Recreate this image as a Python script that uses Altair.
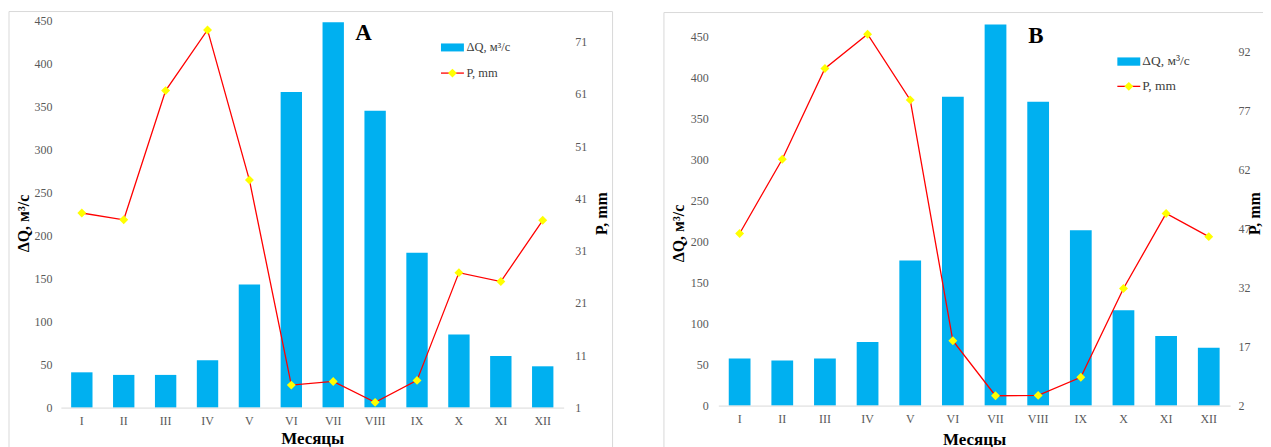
import altair as alt
import pandas as pd

months = ["I", "II", "III", "IV", "V", "VI", "VII", "VIII", "IX", "X", "XI", "XII"]
q_a = [41, 38, 38, 55, 143, 367, 448, 345, 180, 85, 60, 48]
p_a = [38.2, 36.9, 61.6, 73.2, 44.5, 5.3, 6.0, 2.0, 6.2, 26.8, 25.1, 36.8]
q_b = [57.5, 55, 57.5, 77.5, 177, 377, 465, 371, 214, 116.5, 85, 70.5]
p_b = [45.8, 64.7, 87.8, 96.5, 79.8, 18.5, 4.5, 4.6, 9.2, 31.8, 50.9, 45.0]
q_ticks = [0, 50, 100, 150, 200, 250, 300, 350, 400, 450]
p_ticks_a = [1, 11, 21, 31, 41, 51, 61, 71]
p_ticks_b = [2, 17, 32, 47, 62, 77, 92]
legend_labels = ["ΔQ, м³/с", "P, mm"]
q_title = "ΔQ, м³/с"
p_title = "P, mm"
x_title = "Месяцы"

FONT = "Liberation Serif"
BAR = "#00b0f0"
LINE = "#ff0000"
DIAM = "#ffff00"


def one():
    return pd.DataFrame({"k": [0]})


def panel(letter, q, p, q_domain, p_domain, p_ticks, w, h, g):
    df = pd.DataFrame({"month": months, "Q": q, "P": p})
    frame = alt.Chart(one()).mark_rect(fill="transparent", stroke="#d9d9d9", strokeWidth=1).encode(
        x=alt.value(g["fx1"]), x2=alt.value(g["fx2"]), y=alt.value(g["fy1"]), y2=alt.value(g["fy2"]))
    xenc = alt.X("month:N", sort=months,
                 scale=alt.Scale(paddingInner=0.49, paddingOuter=0.245),
                 axis=alt.Axis(title=x_title, labelAngle=0, domainColor="#d9d9d9", domainWidth=1,
                               ticks=False, tickSize=0, labelPadding=8, titleY=g["xty"],
                               titleBaseline="middle", titleFontSize=17, zindex=1))
    bars = alt.Chart(df).mark_bar(color=BAR).encode(
        x=xenc,
        y=alt.Y("Q:Q", scale=alt.Scale(domain=q_domain, nice=False, zero=True),
                axis=alt.Axis(values=q_ticks, title=q_title, grid=False, domain=False, ticks=False,
                              tickSize=0, labelPadding=g["lpad"], titleAngle=270, titleX=g["ltx"],
                              titleY=g["lty"], titleAlign="center", titleBaseline="middle",
                              zindex=1)))
    line = alt.Chart(df).mark_line(
        color=LINE, strokeWidth=1.3,
        point=alt.OverlayMarkDef(shape="diamond", filled=True, fill=DIAM, color=DIAM, size=80, opacity=1)
    ).encode(
        x=alt.X("month:N", sort=months),
        y=alt.Y("P:Q", scale=alt.Scale(domain=p_domain, nice=False, zero=False),
                axis=alt.Axis(orient="right", values=p_ticks, title=p_title, grid=False, domain=False,
                              ticks=False, tickSize=0, labelPadding=g["rpad"], titleAngle=270,
                              titleX=g["rtx"], titleY=g["rty"], titleAlign="center",
                              titleBaseline="middle", titleFontSize=g["rtfs"], zindex=1)))
    sw = alt.Chart(one()).mark_rect(color=BAR).encode(
        x=alt.value(g["sx1"]), x2=alt.value(g["sx2"]), y=alt.value(g["sy1"]), y2=alt.value(g["sy2"]))
    t1 = alt.Chart(pd.DataFrame({"label": [legend_labels[0]]})).mark_text(
        align="left", baseline="middle", font=FONT, fontSize=g["lfs"], color="#404040").encode(
        text="label:N", x=alt.value(g["tx"]), y=alt.value(g["ty1"]))
    lr = alt.Chart(one()).mark_rule(color=LINE, strokeWidth=1.3).encode(
        x=alt.value(g["sx1"]), x2=alt.value(g["sx2"]), y=alt.value(g["ly"]))
    lp = alt.Chart(one()).mark_point(shape="diamond", filled=True, fill=DIAM, color=DIAM, size=80,
                                     opacity=1).encode(
        x=alt.value((g["sx1"] + g["sx2"]) / 2), y=alt.value(g["ly"]))
    t2 = alt.Chart(pd.DataFrame({"label": [legend_labels[1]]})).mark_text(
        align="left", baseline="middle", font=FONT, fontSize=g["lfs"], color="#404040").encode(
        text="label:N", x=alt.value(g["tx"]), y=alt.value(g["ly"]))
    let = alt.Chart(one()).mark_text(
        text=letter, font=FONT, fontSize=23, fontWeight="bold", color="black",
        align="center", baseline="middle").encode(
        x=alt.value(g["ax"]), y=alt.value(g["ay"]))
    return alt.layer(frame, bars, line, sw, t1, lr, lp, t2, let).resolve_scale(
        y="independent").properties(width=w, height=h)


ga = dict(fx1=-52, fx2=553, fy1=-9, fy2=441, xty=31, lpad=9, ltx=-37, lty=203, rpad=11,
          rtx=37.5, rty=193, rtfs=16, sx1=381, sx2=404, sy1=23, sy2=31, tx=406.5, ty1=27,
          ly=52.7, lfs=12.5, ax=303.5, ay=13)
gb = dict(fx1=-54.5, fx2=552.5, fy1=-8, fy2=442, xty=34, lpad=10, ltx=-39.6, lty=213, rpad=8,
          rtx=24.5, rty=193, rtfs=16, sx1=400, sx2=423, sy1=37, sy2=45.3, tx=425, ty1=41,
          ly=66, lfs=13.5, ax=318.4, ay=15.5)

a = panel("A", q_a, p_a, [0, 450], [1, 75], p_ticks_a, 504, 388, ga)
b = panel("B", q_b, p_b, [0, 470], [2, 100], p_ticks_b, 513, 386, gb)

chart = alt.hconcat(a, b, spacing=50).configure_view(stroke=None).configure_axis(
    labelFont=FONT, titleFont=FONT, labelColor="#595959", labelFontSize=12,
    titleFontSize=16, titleColor="black", titleFontWeight="bold"
).properties(padding={"top": 2, "left": 0, "right": -7, "bottom": 0})

chart.save("out.html", embed_options={"renderer": "svg", "actions": False})
